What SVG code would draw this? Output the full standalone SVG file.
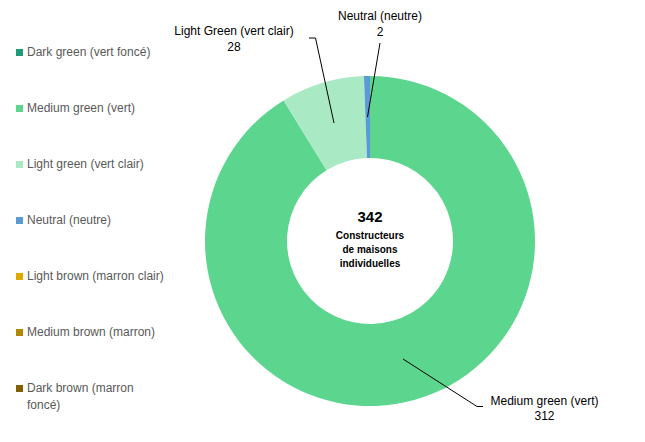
<svg xmlns="http://www.w3.org/2000/svg" width="645" height="442" viewBox="0 0 645 442">
<style>
.lg{font-family:"Liberation Sans",Arial,sans-serif;font-size:12px;fill:#595959}
.lb{font-family:"Liberation Sans",Arial,sans-serif;font-size:12px;fill:#000;text-anchor:middle}
.ct{font-family:"Liberation Sans",Arial,sans-serif;font-weight:bold;fill:#000;text-anchor:middle}
.ld{fill:none;stroke:#000;stroke-width:1}
</style>
<rect width="645" height="442" fill="#fff"/>
<g id="donut">
<path id="seg-medium-green" d="M370,76 A165,165 0 1 1 283.59,100.44 L326.53,170.29 A83,83 0 1 0 370,158 Z" fill="#5CD68E"/>
<path id="seg-light-green" d="M283.59,100.44 A165,165 0 0 1 363.94,76.11 L366.95,158.06 A83,83 0 0 0 326.53,170.29 Z" fill="#A9EAC4"/>
<path id="seg-neutral" d="M363.94,76.11 A165,165 0 0 1 370,76 L370,158 A83,83 0 0 0 366.95,158.06 Z" fill="#5B9BD5"/>
</g>
<g id="center-label">
<text class="ct" x="370" y="222" font-size="15">342</text>
<text class="ct" x="370" y="239" font-size="10">Constructeurs</text>
<text class="ct" x="370" y="253" font-size="10">de maisons</text>
<text class="ct" x="370" y="267" font-size="10">individuelles</text>
</g>
<g id="connectors">
<polyline class="ld" points="334,123 315.5,38 309,38"/>
<polyline class="ld" points="367.5,117 380,43"/>
<polyline class="ld" points="403,359 477,406.5 483,406.5"/>
</g>
<g id="label-light-green">
<text class="lb" x="234" y="35">Light Green (vert clair)</text>
<text class="lb" x="234" y="51">28</text>
</g>
<g id="label-neutral">
<text class="lb" x="380" y="20">Neutral (neutre)</text>
<text class="lb" x="380" y="36">2</text>
</g>
<g id="label-medium-green">
<text class="lb" x="544.5" y="405">Medium green (vert)</text>
<text class="lb" x="544.5" y="420">312</text>
</g>
<g id="legend">
<g id="lg-dark-green"><rect x="16" y="49" width="7" height="7" fill="#1F9A78"/><text class="lg" x="27" y="56">Dark green (vert foncé)</text></g>
<g id="lg-medium-green"><rect x="16" y="105" width="7" height="7" fill="#5CD68E"/><text class="lg" x="27" y="112">Medium green (vert)</text></g>
<g id="lg-light-green"><rect x="16" y="161" width="7" height="7" fill="#A9EAC4"/><text class="lg" x="27" y="168">Light green (vert clair)</text></g>
<g id="lg-neutral"><rect x="16" y="217" width="7" height="7" fill="#5B9BD5"/><text class="lg" x="27" y="224">Neutral (neutre)</text></g>
<g id="lg-light-brown"><rect x="16" y="273" width="7" height="7" fill="#DDAA00"/><text class="lg" x="27" y="280">Light brown (marron clair)</text></g>
<g id="lg-medium-brown"><rect x="16" y="329" width="7" height="7" fill="#B08800"/><text class="lg" x="27" y="336">Medium brown (marron)</text></g>
<g id="lg-dark-brown"><rect x="16" y="385" width="7" height="7" fill="#806000"/><text class="lg" x="27" y="392">Dark brown (marron</text><text class="lg" x="27" y="409">foncé)</text></g>
</g>
</svg>
